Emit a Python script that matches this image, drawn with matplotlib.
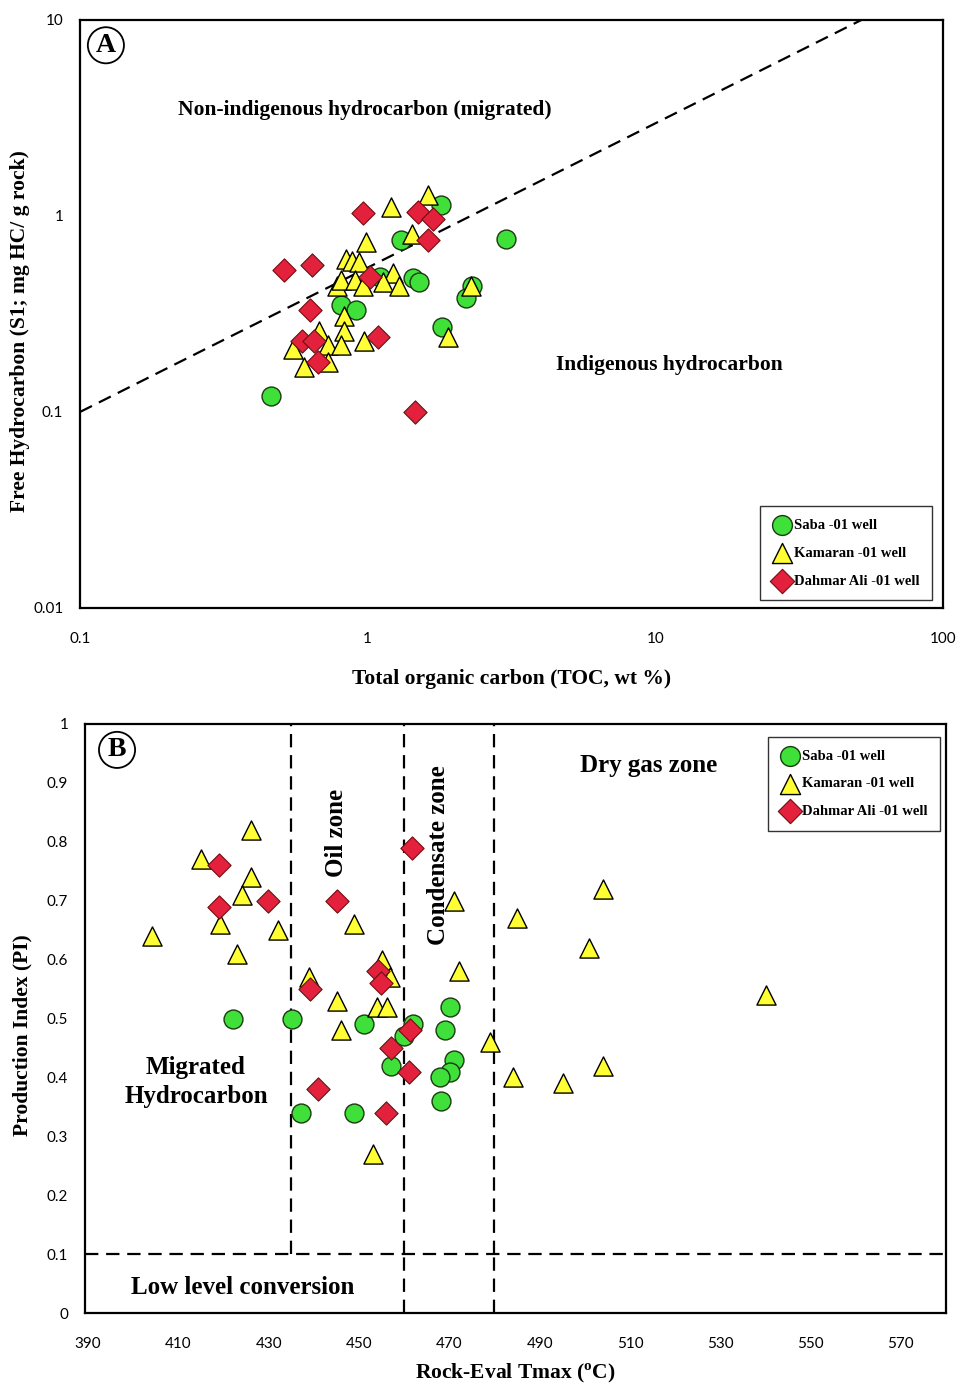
import matplotlib
matplotlib.use("Agg")
import matplotlib.pyplot as plt
from matplotlib.ticker import FixedLocator, FixedFormatter
import numpy as np

# ---------- Panel A data (TOC vs S1) ----------
saba_toc = [1.80, 3.03, 1.31, 1.10, 1.44, 1.51, 2.30, 2.20, 0.81, 0.91, 1.81, 0.46]
saba_s1 = [1.14, 0.76, 0.75, 0.49, 0.48, 0.46, 0.44, 0.38, 0.35, 0.33, 0.27, 0.12]

kam_toc = [1.62, 1.21, 1.43, 0.99, 0.84, 0.88, 0.93, 1.22, 0.78, 0.81, 0.90, 0.96,
           1.13, 1.29, 2.28, 0.83, 0.68, 0.83, 0.55, 0.73, 0.81, 0.97, 1.90, 0.60, 0.73]
kam_s1 = [1.28, 1.11, 0.81, 0.74, 0.60, 0.59, 0.58, 0.51, 0.44, 0.47, 0.47, 0.44,
          0.46, 0.44, 0.44, 0.31, 0.26, 0.26, 0.21, 0.22, 0.22, 0.23, 0.24, 0.17, 0.18]

dah_toc = [0.96, 1.50, 1.69, 1.62, 0.51, 0.64, 1.02, 0.63, 0.59, 0.65, 1.09, 0.67, 1.46]
dah_s1 = [1.04, 1.05, 0.97, 0.75, 0.53, 0.56, 0.49, 0.33, 0.23, 0.23, 0.24, 0.18, 0.10]

# boundary line between migrated / indigenous
line_toc = [0.1, 52.0]
line_s1 = [0.1, 10.0]

# ---------- Panel B data (Tmax vs PI) ----------
saba_t = [422.1, 435.2, 437.2, 448.9, 451.1, 457.1, 460.0, 462.0, 470.1, 469.0, 471.0, 470.1, 467.9, 468.1]
saba_pi = [0.50, 0.50, 0.34, 0.34, 0.49, 0.42, 0.47, 0.49, 0.52, 0.48, 0.43, 0.41, 0.40, 0.36]

kam_t = [404.2, 415.0, 426.1, 426.1, 424.1, 419.2, 432.1, 423.0, 438.9, 445.1, 446.0, 448.9,
         455.1, 456.9, 454.0, 456.2, 453.1, 471.0, 472.1, 479.0, 484.1, 485.0, 495.2,
         500.9, 504.0, 504.0, 540.1]
kam_pi = [0.64, 0.77, 0.82, 0.74, 0.71, 0.66, 0.65, 0.61, 0.57, 0.53, 0.48, 0.66,
          0.60, 0.57, 0.52, 0.52, 0.27, 0.70, 0.58, 0.46, 0.40, 0.67, 0.39,
          0.62, 0.72, 0.42, 0.54]

dah_t = [419.0, 419.0, 429.8, 445.1, 461.7, 439.1, 454.2, 454.9, 440.9, 457.1, 461.3, 461.1, 456.0]
dah_pi = [0.76, 0.69, 0.70, 0.70, 0.79, 0.55, 0.58, 0.56, 0.38, 0.45, 0.48, 0.41, 0.34]

zone_tmax = [435, 460, 480]
low_pi = 0.1

green = "#3fe03a"
yellow = "#ffff33"
red = "#e3213d"

serif = "Liberation Serif"
sans = "Lato"
dash = (0, (6, 3.5))

fig = plt.figure(figsize=(9.57, 13.88), dpi=100)
axA = fig.add_axes([0.0836, 0.5620, 0.9018, 0.4236])
axB = fig.add_axes([0.0888, 0.0540, 0.8997, 0.4244])


def draw_points(ax, s, k, d):
    ax.scatter(s[0], s[1], s=185, marker="o", c=green, edgecolors="#1a3a10", linewidths=1.0,
               label="Saba -01 well", zorder=3)
    ax.scatter(k[0], k[1], s=190, marker="^", c=yellow, edgecolors="black", linewidths=1.0,
               label="Kamaran -01 well", zorder=4)
    ax.scatter(d[0], d[1], s=140, marker="D", c=red, edgecolors="#6a1010", linewidths=0.8,
               label="Dahmar Ali -01 well", zorder=5)


def legend(ax, **kw):
    leg = ax.legend(frameon=True, fancybox=False, edgecolor="black",
                    prop={"family": serif, "weight": "bold", "size": 10.5},
                    handletextpad=0.2, borderpad=0.85, labelspacing=1.0, handlelength=1.3,
                    markerscale=1.05, borderaxespad=0, **kw)
    leg.get_frame().set_linewidth(1.0)
    return leg


# ---------- Panel A ----------
axA.set_xscale("log")
axA.set_yscale("log")
axA.set_xlim(0.1, 100)
axA.set_ylim(0.01, 10)
axA.plot(line_toc, line_s1, color="black", lw=1.6, ls=dash, zorder=2)
draw_points(axA, (saba_toc, saba_s1), (kam_toc, kam_s1), (dah_toc, dah_s1))

axA.xaxis.set_major_locator(FixedLocator([0.1, 1, 10, 100]))
axA.xaxis.set_major_formatter(FixedFormatter(["0.1", "1", "10", "100"]))
axA.yaxis.set_major_locator(FixedLocator([0.01, 0.1, 1, 10]))
axA.yaxis.set_major_formatter(FixedFormatter(["0.01", "0.1", "1", "10"]))
axA.minorticks_off()
axA.tick_params(length=0, labelsize=11, pad=12)
axA.tick_params(axis="x", pad=17)
for lab in axA.get_xticklabels() + axA.get_yticklabels():
    lab.set_family(sans)

axA.set_xlabel("Total organic carbon (TOC, wt %)", family=serif, weight="bold", fontsize=15.5, labelpad=17)
axA.set_ylabel("Free Hydrocarbon (S1; mg HC/ g rock)", family=serif, weight="bold", fontsize=15.5)
axA.yaxis.set_label_coords(-0.058, 0.471)

axA.text(0.330, 0.847, "Non-indigenous hydrocarbon (migrated)", transform=axA.transAxes,
         ha="center", va="center", family=serif, weight="bold", fontsize=15.5)
axA.text(0.6825, 0.413, "Indigenous hydrocarbon", transform=axA.transAxes,
         ha="center", va="center", family=serif, weight="bold", fontsize=15.5)
axA.text(0.030, 0.957, "A", transform=axA.transAxes, ha="center", va="center",
         family=serif, weight="bold", fontsize=20,
         bbox=dict(boxstyle="circle,pad=0.2", fc="white", ec="black", lw=1.3))

legend(axA, loc="lower right", bbox_to_anchor=(0.9873, 0.0136))

# ---------- Panel B ----------
axB.set_xlim(389.3, 580)
axB.set_ylim(0, 1)
for t in zone_tmax:
    axB.axvline(t, ymin=low_pi, ymax=1, color="black", lw=1.6, ls=dash, zorder=2)
axB.axhline(low_pi, color="black", lw=1.6, ls=dash, zorder=2)
for t in zone_tmax[1:]:
    axB.plot([t, t], [0, low_pi], color="black", lw=1.6, ls=dash, zorder=2)

draw_points(axB, (saba_t, saba_pi), (kam_t, kam_pi), (dah_t, dah_pi))

axB.set_xticks(np.arange(390, 571, 20))
axB.set_yticks(np.round(np.arange(0, 1.01, 0.1), 1))
axB.set_yticklabels(["0", "0.1", "0.2", "0.3", "0.4", "0.5", "0.6", "0.7", "0.8", "0.9", "1"])
axB.tick_params(length=0, labelsize=11, pad=12)
axB.tick_params(axis="x", pad=17)
for lab in axB.get_xticklabels() + axB.get_yticklabels():
    lab.set_family(sans)

axB.set_xlabel("Rock-Eval Tmax ($^{\\mathregular{o}}$C)", family=serif, weight="bold", fontsize=15.5, labelpad=8)
axB.set_ylabel("Production Index (PI)", family=serif, weight="bold", fontsize=15.5)
axB.yaxis.set_label_coords(-0.061, 0.472)

axB.text(514.2, 0.930, "Dry gas zone", ha="center", va="center", family=serif, weight="bold", fontsize=18)
axB.text(445.1, 0.815, "Oil zone", ha="center", va="center", rotation=90, family=serif, weight="bold", fontsize=18)
axB.text(467.7, 0.778, "Condensate zone", ha="center", va="center", rotation=90, family=serif, weight="bold", fontsize=18)
axB.text(413.9, 0.392, "Migrated\nHydrocarbon", ha="center", va="center", family=serif, weight="bold",
         fontsize=18, linespacing=1.35)
axB.text(424.3, 0.044, "Low level conversion", ha="center", va="center", family=serif, weight="bold", fontsize=18)
axB.text(396.4, 0.956, "B", ha="center", va="center", family=serif, weight="bold", fontsize=20,
         bbox=dict(boxstyle="circle,pad=0.2", fc="white", ec="black", lw=1.3))

legend(axB, loc="upper right", bbox_to_anchor=(0.993, 0.978))

for ax in (axA, axB):
    for sp in ax.spines.values():
        sp.set_linewidth(1.6)

fig.savefig("out.png", dpi=100)
